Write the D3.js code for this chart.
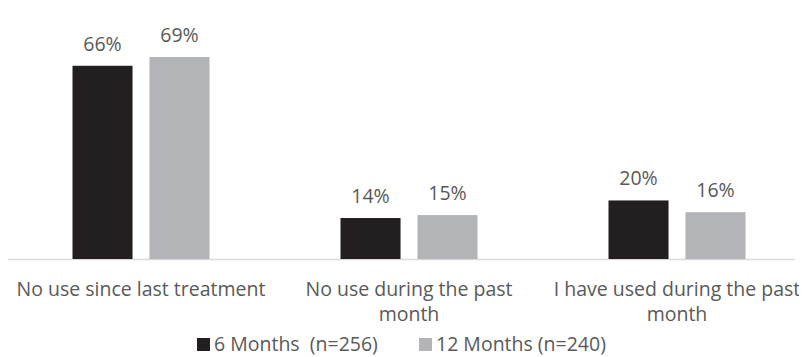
<!DOCTYPE html>
<html>
<head>
<meta charset="utf-8">
<script src="https://cdn.jsdelivr.net/npm/d3@7/dist/d3.min.js"></script>
<style>
  html, body { margin: 0; padding: 0; background: #fff; }
  svg { display: block; }
  text { font-family: "Open Sans", sans-serif; fill: #595959; }
</style>
</head>
<body>
<svg id="chart" width="812" height="357"></svg>
<script>
const categories = [
  ["No use since last treatment"],
  ["No use during the past", "month"],
  ["I have used during the past", "month"]
];
const seriesNames = ["6 Months  (n=256)", "12 Months (n=240)"];
const months6 = [66, 14, 20];
const months12 = [69, 15, 16];
const colors = ["#231f20", "#b3b4b7"];

const W = 812, H = 357;
const FS = 19.5;
const svg = d3.select("#chart");
const baseY = 259;

const x = d3.scaleBand().domain(d3.range(categories.length)).range([7, 811]).paddingInner(0).paddingOuter(0);
const xInner = d3.scaleBand().domain([0, 1]).range([0, 137]).paddingInner(0.22);
const y = d3.scaleLinear().domain([0, 69]).range([baseY, 57]);

const series = [months6, months12];

// axis line
svg.append("line")
  .attr("x1", 8).attr("x2", 795)
  .attr("y1", baseY + 0.5).attr("y2", baseY + 0.5)
  .attr("stroke", "#d9d9d9").attr("stroke-width", 1.5);

series.forEach((vals, s) => {
  const g = svg.append("g");
  g.selectAll("rect").data(vals).enter().append("rect")
    .attr("x", (d, i) => x(i) + x.bandwidth() / 2 - 68.5 + xInner(s))
    .attr("width", xInner.bandwidth())
    .attr("y", d => y(d))
    .attr("height", d => baseY - y(d))
    .attr("fill", colors[s]);
  g.selectAll("text").data(vals).enter().append("text")
    .attr("x", (d, i) => x(i) + x.bandwidth() / 2 - 68.5 + xInner(s) + xInner.bandwidth() / 2)
    .attr("y", d => y(d) - 15)
    .attr("text-anchor", "middle")
    .attr("font-size", FS)
    .text(d => d + "%");
});

// category labels with clip
svg.append("clipPath").attr("id", "clip")
  .append("rect").attr("x", 0).attr("y", 0).attr("width", 799).attr("height", H);

const labels = svg.append("g").attr("clip-path", "url(#clip)");
categories.forEach((lines, i) => {
  lines.forEach((ln, j) => {
    labels.append("text")
      .attr("x", x(i) + x.bandwidth() / 2)
      .attr("y", 296 + j * 25)
      .attr("text-anchor", "middle")
      .attr("font-size", FS)
      .text(ln);
  });
});

// legend
const legendX = [197, 419];
seriesNames.forEach((name, s) => {
  svg.append("rect")
    .attr("x", legendX[s]).attr("y", 338)
    .attr("width", 13).attr("height", 13)
    .attr("fill", colors[s]);
  svg.append("text")
    .attr("x", legendX[s] + 17).attr("y", 351)
    .attr("font-size", FS)
    .attr("xml:space", "preserve")
    .style("white-space", "pre")
    .text(name);
});
</script>
</body>
</html>
